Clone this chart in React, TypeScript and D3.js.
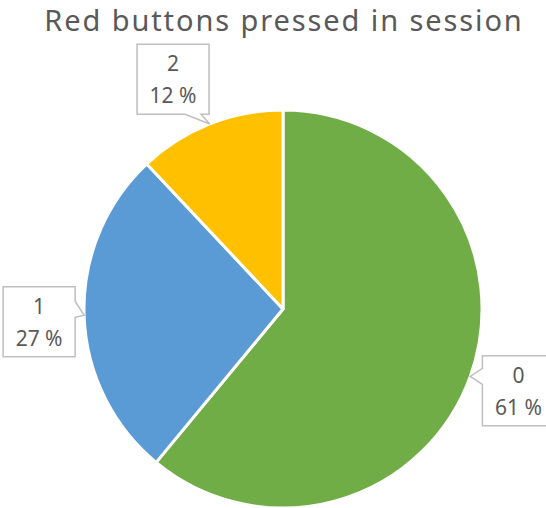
import React from "react";
import * as d3 from "d3";

const categories = ["0", "1", "2"];
const values = [61, 27, 12];
const colors = ["#70AD47", "#5B9BD5", "#FFC000"];
const title = "Red buttons pressed in session";

const W = 546;
const H = 508;
const cx = 283;
const cy = 309;
const R = 199;
const labelR = 247;
const labelNudge: [number, number][] = [[3, -2], [3, 5], [-19, 0]];
const boxW = 72;
const boxH = 70;

function calloutPath(x0: number, y0: number, x1: number, y1: number, tx: number, ty: number) {
  const hw = 8;
  const clamp = (v: number, a: number, b: number) => Math.max(a, Math.min(b, v));
  if (ty > y1) {
    const c = clamp(tx, x0 + 16, x1 - 16);
    return `M${x0},${y0}H${x1}V${y1}H${c + hw}L${tx},${ty}L${c - hw},${y1}H${x0}Z`;
  }
  if (tx > x1) {
    const c = clamp(ty - 6, y0 + 14, y1 - 14);
    return `M${x0},${y0}H${x1}V${c - hw}L${tx},${ty}L${x1},${c + hw}V${y1}H${x0}Z`;
  }
  if (tx < x0) {
    const c = clamp(ty, y0 + 14, y1 - 14);
    return `M${x0},${y0}H${x1}V${y1}H${x0}V${c + hw}L${tx},${ty}L${x0},${c - hw}Z`;
  }
  const c = clamp(tx, x0 + 16, x1 - 16);
  return `M${x0},${y0}H${c - hw}L${tx},${ty}L${c + hw},${y0}H${x1}V${y1}H${x0}Z`;
}

export default function App() {
  const total = d3.sum(values);
  const pie = d3.pie<number>().sort(null).value((d) => d);
  const arcs = pie(values);
  const arc = d3.arc<d3.PieArcDatum<number>>().innerRadius(0).outerRadius(R);
  const font = "'Noto Sans', 'Open Sans', sans-serif";

  return (
    <svg width={W} height={H} style={{ position: "absolute", left: 0, top: 0, background: "#fff" }}>
      <text x={284} y={31} textAnchor="middle" fontFamily={font} fontSize={29} letterSpacing={1.9} fill="#595959">
        {title}
      </text>
      <g transform={`translate(${cx},${cy})`}>
        {arcs.map((a, i) => (
          <path key={i} d={arc(a) || ""} fill={colors[i]} stroke="#fff" strokeWidth={3} strokeLinejoin="round" />
        ))}
      </g>
      {arcs.map((a, i) => {
        const mid = (a.startAngle + a.endAngle) / 2;
        const tx = cx + R * Math.sin(mid);
        const ty = cy - R * Math.cos(mid);
        const lx = cx + labelR * Math.sin(mid) + labelNudge[i][0];
        const ly = cy - labelR * Math.cos(mid) + labelNudge[i][1];
        const x0 = lx - boxW / 2;
        const y0 = ly - boxH / 2;
        const pct = Math.round((values[i] / total) * 100);
        return (
          <g key={i}>
            <path
              d={calloutPath(x0, y0, x0 + boxW, y0 + boxH, tx, ty)}
              fill="#fff"
              stroke="#BFBFBF"
              strokeWidth={1.5}
              strokeLinejoin="miter"
            />
            <text x={lx} y={ly - 8} textAnchor="middle" fontFamily={font} fontSize={21} fill="#595959">
              {categories[i]}
            </text>
            <text x={lx} y={ly + 24} textAnchor="middle" fontFamily={font} fontSize={21} fill="#595959">
              {`${pct} %`}
            </text>
          </g>
        );
      })}
    </svg>
  );
}
